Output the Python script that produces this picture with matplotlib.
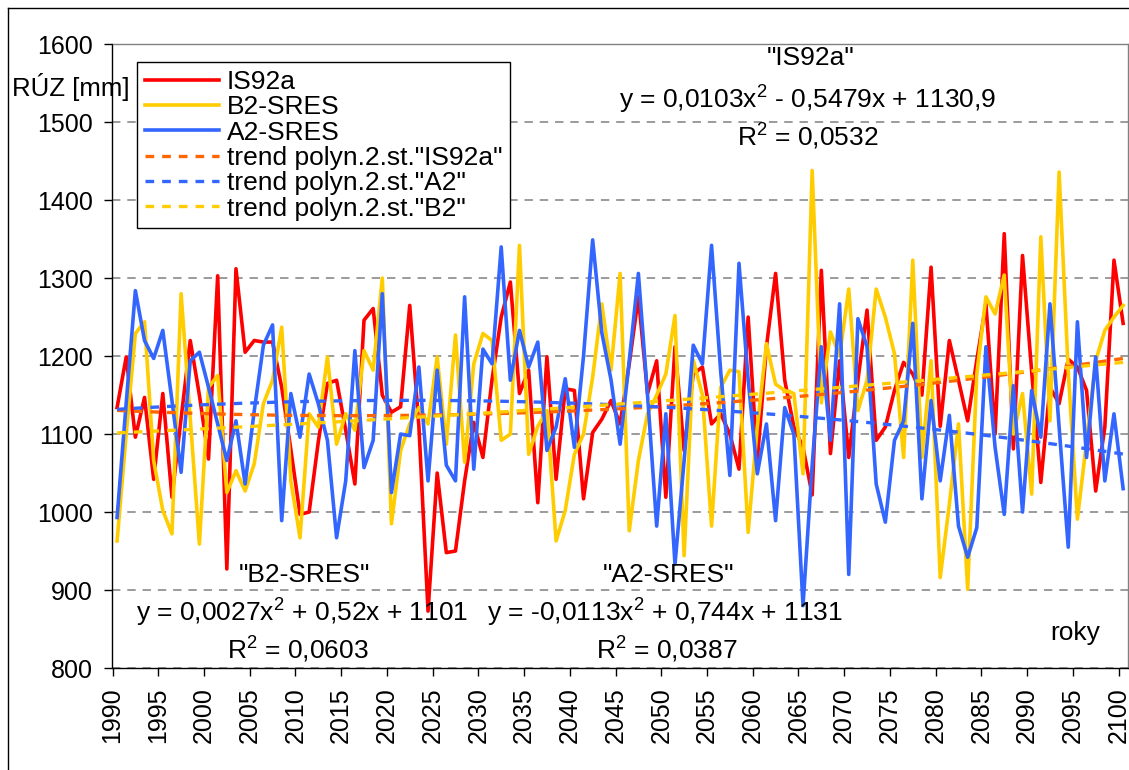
"""
Annual runoff (RÚZ) 1990-2100 for three climate scenarios with polynomial trends.
"""

import matplotlib

matplotlib.use("Agg")
import matplotlib.pyplot as plt
import numpy as np
from matplotlib.lines import Line2D

plt.rcParams["font.family"] = ["Liberation Sans", "DejaVu Sans"]
plt.rcParams["mathtext.fontset"] = "custom"
plt.rcParams["mathtext.rm"] = "Liberation Sans"
plt.rcParams["mathtext.it"] = "Liberation Sans"

W, H = 1129, 770

years = np.arange(1990, 2101)

is92a = [
    1134, 1199, 1096, 1147, 1042, 1152, 1019, 1120, 1220, 1150,
    1068, 1303, 927, 1312, 1205, 1220, 1218, 1218, 1160, 1080,
    997, 1000, 1090, 1165, 1169, 1105, 1036, 1246, 1261, 1150,
    1128, 1135, 1265, 1110, 873, 1050, 948, 950, 1040, 1115,
    1070, 1170, 1250, 1295, 1152, 1182, 1012, 1199, 1042, 1158,
    1156, 1017, 1102, 1119, 1143, 1113, 1190, 1276, 1152, 1194,
    1019, 1212, 1079, 1177, 1186, 1113, 1126, 1100, 1055, 1250,
    1066, 1212, 1306, 1169, 1109, 1083, 1022, 1310, 1075, 1194,
    1070, 1169, 1259, 1092, 1109, 1156, 1192, 1177, 1150, 1314,
    1110, 1220, 1169, 1117, 1195, 1267, 1100, 1357, 1081, 1329,
    1180, 1038, 1160, 1139, 1196, 1186, 1156, 1027, 1109, 1323,
    1242,
]

b2_sres = [
    963, 1100, 1229, 1244, 1066, 1002, 972, 1280, 1120, 959,
    1160, 1175, 1025, 1053, 1027, 1062, 1139, 1169, 1237, 1040,
    967, 1126, 1109, 1199, 1087, 1126, 1105, 1207, 1182, 1300,
    985, 1079, 1113, 1134, 1113, 1199, 1087, 1227, 1064, 1190,
    1229, 1220, 1092, 1100, 1342, 1074, 1110, 1130, 963, 1002,
    1074, 1100, 1173, 1267, 1182, 1306, 976, 1066, 1126, 1150,
    1177, 1252, 944, 1195, 1150, 982, 1160, 1182, 1180, 974,
    1109, 1216, 1164, 1156, 1152, 1049, 1438, 1140, 1231, 1200,
    1286, 1130, 1169, 1286, 1250, 1203, 1070, 1323, 1070, 1194,
    916, 1010, 1113, 901, 1177, 1276, 1254, 1304, 1100, 1152,
    1023, 1353, 1117, 1436, 1180, 991, 1090, 1194, 1233, 1250,
    1265,
]

a2_sres = [
    993, 1140, 1284, 1220, 1197, 1233, 1143, 1051, 1194, 1205,
    1160, 1113, 1066, 1117, 1036, 1130, 1214, 1240, 989, 1152,
    1096, 1177, 1139, 1092, 967, 1040, 1207, 1057, 1092, 1280,
    1025, 1100, 1098, 1186, 1040, 1182, 1060, 1040, 1276, 1055,
    1209, 1190, 1340, 1169, 1233, 1186, 1218, 1079, 1109, 1171,
    1083, 1200, 1349, 1230, 1170, 1087, 1194, 1306, 1150, 982,
    1126, 933, 1066, 1214, 1190, 1342, 1180, 1047, 1319, 1170,
    1049, 1113, 989, 1134, 1100, 880, 1060, 1212, 1092, 1267,
    920, 1248, 1212, 1036, 987, 1092, 1117, 1242, 1017, 1143,
    1040, 1124, 982, 942, 980, 1212, 1083, 997, 1162, 1000,
    1156, 1096, 1267, 1109, 955, 1244, 1070, 1199, 1040, 1126,
    1030,
]

# Excel trendline coefficients as printed on the chart (x = 1 .. n)
trend_is92a = [0.0103, -0.5479, 1130.9]
trend_a2 = [-0.0113, 0.744, 1131]
trend_b2 = [0.0027, 0.52, 1101]

series_labels = ["IS92a", "B2-SRES", "A2-SRES"]
trend_labels = [
    'trend polyn.2.st."IS92a"',
    'trend polyn.2.st."A2"',
    'trend polyn.2.st."B2"',
]
x_ticks = np.arange(1990, 2101, 5)
y_ticks = np.arange(800, 1601, 100)

RED = "#FF0000"
YELLOW = "#FFCC00"
BLUE = "#3366FF"
ORANGE = "#FF6600"
GRAY = "#808080"
FS = 19
TICK_FS = 18

fig = plt.figure(figsize=(W / 100, H / 100), dpi=100)
ax_l, ax_r, ax_t, ax_b = 112.5, 1127.7, 44.2, 668.0
ax = fig.add_axes([ax_l / W, (H - ax_b) / H, (ax_r - ax_l) / W, (ax_b - ax_t) / H])

# category axis: points sit in the middle of each year slot
ax.set_xlim(years[0] - 0.5, years[-1] + 0.5)
ax.set_ylim(800, 1600)

lw = 2.6
ax.plot(years, is92a, color=RED, lw=lw, zorder=3, label=series_labels[0])
ax.plot(years, b2_sres, color=YELLOW, lw=lw, zorder=4, label=series_labels[1])
ax.plot(years, a2_sres, color=BLUE, lw=lw, zorder=5, label=series_labels[2])

t = np.arange(1, len(years) + 1)
dash = (0, (2.6, 2.4))
ax.plot(years, np.polyval(trend_is92a, t), color=ORANGE, lw=2.4, ls=dash,
        zorder=6, label=trend_labels[0])
ax.plot(years, np.polyval(trend_a2, t), color=BLUE, lw=2.4, ls=dash,
        zorder=7, label=trend_labels[1])
ax.plot(years, np.polyval(trend_b2, t), color=YELLOW, lw=2.4, ls=dash,
        zorder=8, label=trend_labels[2])

# axes styling
ax.set_yticks(y_ticks)
ax.set_xticks(x_ticks - 0.5)
ax.set_xticklabels([str(v) for v in x_ticks], rotation=90)
ax.tick_params(axis="y", direction="out", length=6, width=1, pad=8,
               labelsize=TICK_FS)
ax.tick_params(axis="x", direction="out", length=6, width=1, pad=8,
               labelsize=TICK_FS)
ax.yaxis.grid(True, color=GRAY, lw=1.1, ls=(0, (5.5, 4.5)))
ax.set_axisbelow(True)
for s in ("top", "right"):
    ax.spines[s].set_color(GRAY)
    ax.spines[s].set_linewidth(1.0)
for s in ("left", "bottom"):
    ax.spines[s].set_color("black")
    ax.spines[s].set_linewidth(1.0)

leg = ax.legend(
    loc="upper left",
    bbox_to_anchor=(137 / W, 1 - 62 / H),
    bbox_transform=fig.transFigure,
    fontsize=FS,
    frameon=True,
    fancybox=False,
    framealpha=1,
    edgecolor="black",
    borderpad=0.3,
    labelspacing=0.05,
    handlelength=2.8,
    handletextpad=0.3,
    borderaxespad=0,
)
leg.get_frame().set_linewidth(1.0)
leg.set_zorder(10)


def ftext(x, y, s, ha="center", size=FS, **kw):
    return fig.text(x / W, 1 - y / H, s, fontsize=size, ha=ha, va="center", **kw)


ftext(12, 87, "RÚZ [mm]", ha="left", size=18.5, zorder=11)
ftext(811, 58, '"IS92a"')
ftext(808, 100, r"y = 0,0103x$^{2}$ - 0,5479x + 1130,9")
ftext(808, 137, r"R$^{2}$ = 0,0532")
ftext(304, 575, '"B2-SRES"')
ftext(302, 613, r"y = 0,0027x$^{2}$ + 0,52x + 1101")
ftext(298, 650, r"R$^{2}$ = 0,0603")
ftext(668, 575, '"A2-SRES"')
ftext(665, 613, r"y = -0,0113x$^{2}$ + 0,744x + 1131")
ftext(667, 650, r"R$^{2}$ = 0,0387")
ftext(1075, 633, "roky")

# chart area border (clipped on the right and bottom in the original)
fig.add_artist(Line2D([8 / W, 8 / W], [0, 1 - 8 / H], color="black", lw=1.0))
fig.add_artist(Line2D([8 / W, 1], [1 - 8 / H, 1 - 8 / H], color="black", lw=1.0))

fig.savefig("out.png", dpi=100)
